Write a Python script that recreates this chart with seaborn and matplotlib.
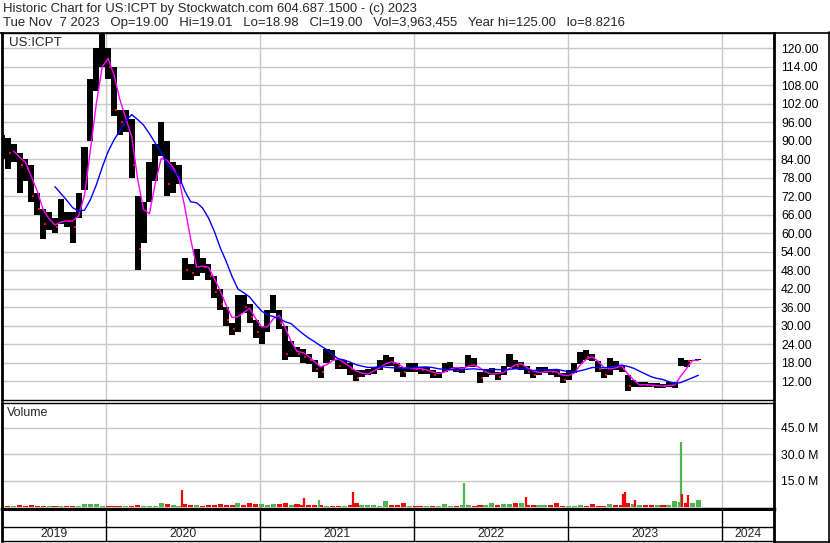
import numpy as np
import pandas as pd
import matplotlib
matplotlib.use("Agg")
import matplotlib.pyplot as plt
import matplotlib.dates as mdates
from matplotlib.lines import Line2D
import seaborn as sns

# ---------------- data (bi-weekly bars) ----------------
start_date = "2019-04-29"
high = [92, 91, 89, 86, 84, 82, 73, 68, 67, 65, 71, 67, 67, 73, 88, 110, 120, 125, 120, 114,
        100, 100, 97, 72, 70, 83, 89, 96, 90, 83, 82, 52, 50, 55, 52, 50, 46, 42, 36, 31,
        40, 40, 37, 32, 30, 35, 40, 35, 30, 25, 23, 22.5, 21, 19, 17, 22.5, 22, 19, 19, 18,
        15.5, 15.6, 16, 16.5, 19, 20.5, 20, 18, 16.5, 17.8, 18, 16.5, 16.5, 15.6, 15, 18, 18.2, 16.5, 16.5, 20.4,
        19.5, 15, 16, 16.2, 15, 17, 21, 19, 18.2, 17, 15.6, 16.5, 16.5, 15.6, 15.6, 14.6, 15.5, 17.8, 21.4, 22,
        21, 18.5, 16, 19.5, 18.5, 17.2, 14, 12.3, 11.7, 11.7, 11.5, 11.4, 11.2, 11.7, 11.8, 19.5, 19, 19, 19.2]
low = [84, 81, 83, 73, 77, 70, 66, 58, 61, 60, 63, 62, 57, 65, 74, 90, 106, 114, 110, 98,
       92, 93, 78, 48, 57, 70, 77, 85, 72, 73, 76, 45, 45, 46, 47, 45, 39, 35, 30, 27,
       28, 34, 31, 26, 24, 28, 34, 29, 19, 20, 20, 18, 17.5, 15, 13, 18, 19, 16, 16, 14,
       12, 13.5, 14, 14.5, 15.5, 17, 17, 15, 13.3, 15, 15, 14.5, 14.5, 13, 13, 15, 15.6, 15, 14.8, 16.5,
       16.5, 11.4, 13.5, 14, 12.3, 14, 16.5, 16, 15.6, 14.5, 13, 14, 14.6, 14, 13.5, 11.4, 12.5, 14.6, 17.5, 19,
       18.5, 15, 13, 14, 15.5, 15, 8.8, 10, 10.2, 10, 10, 9.8, 9.8, 10, 9.7, 17, 16.5, 18.5, 18.9]
close = [88, 86, 86, 82, 81, 72, 68, 63, 63, 62, 66, 64, 62, 71, 84, 106, 116, 120, 114, 100,
         96, 96, 82, 55, 66, 78, 85, 90, 76, 78, 79, 48, 47, 52, 49, 46, 41, 37, 32, 29,
         38, 36, 33, 28, 28, 33, 36, 31, 21, 23, 21, 20, 19, 16, 15, 21, 20, 17, 17, 16,
         13, 15, 15, 16, 18, 19, 18, 16.5, 15, 17, 16, 15.5, 15.5, 14, 14, 17, 17, 15.5, 16, 19,
         17, 13, 15, 15, 13.5, 16, 19, 17, 17, 15, 14, 15.5, 15.5, 15, 14.5, 12.5, 14.5, 17, 20.5, 20,
         19.5, 16, 14, 18, 17, 16, 10.5, 11, 11, 10.8, 10.5, 10.5, 10.4, 11, 11, 19, 18.5, 18.8, 19]
volume_m = [2.2, 1.0, 1.1, 1.6, 1.0, 1.3, 0.9, 1.0, 0.8, 0.9, 1.0, 0.8, 0.9, 1.0, 1.8, 1.7, 1.9, 1.0, 1.1, 0.9,
            1.0, 0.9, 1.1, 1.2, 1.0, 0.9, 1.1, 2.5, 2.0, 1.2, 1.0, 1.8, 1.2, 1.3, 1.1, 1.2, 1.3, 2.0, 1.3, 1.5,
            2.7, 1.5, 2.5, 1.8, 2.2, 1.6, 1.7, 1.8, 2.4, 1.5, 2.2, 1.5, 1.2, 1.2, 1.3, 1.0, 1.1, 1.0, 1.0, 1.5,
            2.5, 1.5, 1.2, 1.2, 1.1, 3.5, 1.2, 1.3, 2.4, 1.0, 0.9, 0.8, 0.9, 1.0, 0.8, 1.9, 0.9, 1.0, 1.2, 1.2,
            1.1, 1.3, 1.2, 2.4, 1.3, 1.8, 1.9, 2.7, 2.5, 1.6, 1.4, 1.2, 1.2, 1.4, 2.7, 1.0, 0.9, 1.1, 1.3, 1.0,
            1.9, 1.1, 1.1, 1.9, 1.2, 1.5, 2.5, 2.2, 1.4, 1.4, 1.4, 1.2, 1.2, 1.2, 3.5, 3.0, 2.8, 2.6, 4.5]
spike_dates = ["2020-06-29", "2021-04-15", "2021-05-21", "2021-08-09", "2022-04-28", "2022-09-23",
               "2023-05-11", "2023-05-16", "2023-06-09", "2023-09-26", "2023-09-27", "2023-10-12", "2023-11-02"]
spike_vol_m = [9.7, 5.2, 4.3, 8.6, 13.7, 5.7, 7.5, 8.6, 4.3, 37.0, 7.5, 7.0, 4.5]
spike_up = [False, False, True, False, True, False, False, False, False, True, False, False, True]

price_ticks = [12, 18, 24, 30, 36, 42, 48, 54, 60, 66, 72, 78, 84, 90, 96, 102, 108, 114, 120]
vol_ticks = [15, 30, 45]
vol_tick_labels = ["15.0 M", "30.0 M", "45.0 M"]
years = [2019, 2020, 2021, 2022, 2023, 2024]
symbol = "US:ICPT"
header1 = "Historic Chart for US:ICPT by Stockwatch.com 604.687.1500 - (c) 2023"
header2 = ("Tue Nov  7 2023   Op=19.00   Hi=19.01   Lo=18.98   Cl=19.00   Vol=3,963,455   "
           "Year hi=125.00   lo=8.8216")

# ---------------- frame ----------------
n = len(close)
dates = pd.date_range(start_date, periods=n, freq="14D")
df = pd.DataFrame({"date": dates, "high": high, "low": low, "close": close, "vol": volume_m})
df["x"] = mdates.date2num(df["date"])
df["ma_short"] = df["close"].rolling(3).mean()
df["ma_long"] = df["close"].rolling(10).mean()
df["down"] = df["close"] < df["close"].shift(1)

sns.set_theme(style="white")
plt.rcParams["font.family"] = ["Liberation Sans", "DejaVu Sans"]

W, H = 830, 543
fig = plt.figure(figsize=(W / 100, H / 100), dpi=100)
fig.patch.set_facecolor("white")

def fx(x):
    return x / W

def fy(y):
    return 1 - y / H

LEFT, RIGHT = 2, 774
ax_p = fig.add_axes([fx(LEFT), fy(400), fx(RIGHT) - fx(LEFT), fy(33) - fy(400)])
ax_v = fig.add_axes([fx(LEFT), fy(509), fx(RIGHT) - fx(LEFT), fy(403) - fy(509)])
ax_y = fig.add_axes([fx(LEFT), fy(541), fx(RIGHT) - fx(LEFT), fy(511) - fy(541)])

# x limits: year starts at pixel 106 (2020) ... 722 (2024)
d2020 = mdates.date2num(pd.Timestamp("2020-01-01"))
d2024 = mdates.date2num(pd.Timestamp("2024-01-01"))
ppd = (722 - 106) / (d2024 - d2020)
xlim = (d2020 - (106 - LEFT) / ppd, d2024 + (RIGHT - 722) / ppd)
year_starts = [mdates.date2num(pd.Timestamp(f"{y}-01-01")) for y in years]

grid_c = "#c8c8c8"
label_fs = 8.7

# ---------------- price panel ----------------
ax_p.set_xlim(*xlim)
ax_p.set_ylim(5.93, 124.96)
ax_p.set_xticks(year_starts[1:])
ax_p.set_yticks(price_ticks)
ax_p.grid(True, color=grid_c, linewidth=1)
ax_p.set_axisbelow(True)
ax_p.bar(df["x"], df["high"] - df["low"], bottom=df["low"], width=14.3, color="black", linewidth=0, zorder=2)
dn = df[df["down"]]
ax_p.scatter(dn["x"] + 5, dn["close"], marker="s", s=3, color="#ff0000", linewidths=0, zorder=3)
sns.lineplot(data=df.dropna(subset=["ma_short"]), x="x", y="ma_short", ax=ax_p, color="#ff00ff", linewidth=1, zorder=4)
sns.lineplot(data=df.dropna(subset=["ma_long"]), x="x", y="ma_long", ax=ax_p, color="#0000ff", linewidth=1, zorder=4)
ax_p.set_xlabel("")
ax_p.set_ylabel("")
ax_p.yaxis.tick_right()
ax_p.set_yticklabels([f"{t:.2f}" for t in price_ticks])
ax_p.tick_params(axis="y", length=0, pad=5, labelsize=label_fs, colors="black")
ax_p.tick_params(axis="x", length=0, labelbottom=False)
ax_p.text((9 - LEFT) / (RIGHT - LEFT), (400 - 43) / (400 - 33), symbol, transform=ax_p.transAxes,
          fontsize=9.6, va="center", ha="left")

# ---------------- volume panel ----------------
ax_v.set_xlim(*xlim)
ax_v.set_ylim(-0.85, 59.1)
ax_v.set_xticks(year_starts[1:])
ax_v.set_yticks(vol_ticks)
ax_v.grid(True, color=grid_c, linewidth=1)
ax_v.set_axisbelow(True)
band_colors = np.where(df["down"], "#ff0000", "#4cb84c")
ax_v.bar(df["x"], df["vol"], width=12, color=band_colors, linewidth=0, zorder=2)
sx = mdates.date2num(pd.to_datetime(spike_dates))
sc = ["#4cb84c" if u else "#ff0000" for u in spike_up]
ax_v.vlines(sx, 0, spike_vol_m, colors=sc, linewidth=1.6, zorder=3)
ax_v.yaxis.tick_right()
ax_v.set_yticklabels(vol_tick_labels)
ax_v.tick_params(axis="y", length=0, pad=5, labelsize=label_fs, colors="black")
ax_v.tick_params(axis="x", length=0, labelbottom=False)
ax_v.text((7 - LEFT) / (RIGHT - LEFT), 0.905, "Volume", transform=ax_v.transAxes, fontsize=9, va="center", ha="left")

# ---------------- year row ----------------
ax_y.set_xlim(*xlim)
ax_y.set_ylim(0, 1)
ax_y.set_xticks([])
ax_y.set_yticks([])
for ys in year_starts[1:]:
    ax_y.axvline(ys, color="black", linewidth=1)
ax_y.axhline((541 - 527) / (541 - 511), color="black", linewidth=1)
bounds = [xlim[0]] + year_starts[1:] + [xlim[1]]
for i, y in enumerate(years):
    ax_y.text((bounds[i] + bounds[i + 1]) / 2, 0.22, str(y), ha="center", va="center", fontsize=label_fs)

# spines
for ax in (ax_p, ax_v, ax_y):
    for s in ax.spines.values():
        s.set_color("black")
        s.set_linewidth(1)
    ax.spines["left"].set_linewidth(2)
    ax.spines["right"].set_linewidth(2)
ax_v.spines["bottom"].set_linewidth(2.5)
ax_y.spines["top"].set_visible(False)

# outer frame + header
fig.add_artist(Line2D([0, 1], [fy(32.5), fy(32.5)], color="black", linewidth=1.2))
fig.add_artist(Line2D([fx(828.5), fx(828.5)], [fy(32), fy(542)], color="black", linewidth=1.2))
fig.add_artist(Line2D([fx(774), 1], [fy(541.5), fy(541.5)], color="black", linewidth=1.2))
fig.text(fx(3), fy(9), header1, ha="left", va="center", fontsize=9.45)
fig.text(fx(3), fy(23), header2, ha="left", va="center", fontsize=9.45)

fig.savefig("out.png", dpi=100, facecolor="white")
